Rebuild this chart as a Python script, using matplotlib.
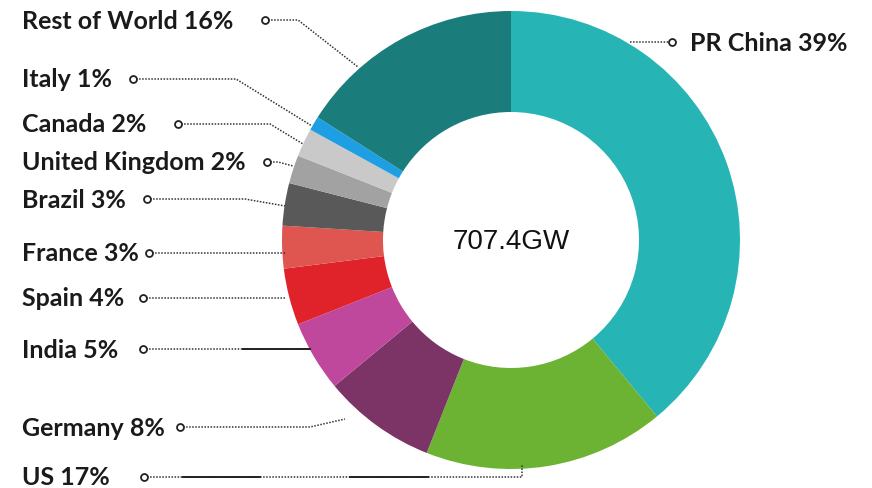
import matplotlib.pyplot as plt

# ==============================
# DATA
# ==============================

countries = ["PR China", "US", "Germany", "India", "Spain", "France",
             "Brazil", "United Kingdom", "Canada", "Italy", "Rest of World"]
shares = [39, 17, 8, 5, 4, 3, 3, 2, 2, 1, 16]
colors = ["#27b4b4", "#6cb233", "#7c3466", "#c0489c", "#e0232a", "#df5550",
          "#595959", "#a2a2a2", "#c9c9c9", "#1e9fe3", "#1b7d7b"]
total_label = "707.4GW"

# ==============================
# FIGURE (axes in pixel units, y up)
# ==============================

W, H = 872, 489
fig = plt.figure(figsize=(W / 100, H / 100), dpi=100)
ax = fig.add_axes([0, 0, 1, 1])

cx, cy = 511, H - 241
R, ring = 229, 101

ax.pie(shares, colors=colors, startangle=90, counterclock=False,
       center=(cx, cy), radius=R,
       wedgeprops=dict(width=ring, linewidth=0))

ax.set_xlim(0, W)
ax.set_ylim(0, H)
ax.set_aspect("equal")
ax.axis("off")

ax.text(cx, cy - 1, total_label, ha="center", va="center", fontsize=20,
        family="Liberation Sans", color="#111111")

# ==============================
# LABELS + LEADER LINES
# ==============================

def py(y):
    return H - y

# label text y, leader path starting at the marker (pixel coords)
label_y = {
    "Rest of World": 22, "Italy": 80, "Canada": 125, "United Kingdom": 163,
    "Brazil": 201, "France": 254, "Spain": 299, "India": 351,
    "Germany": 429, "US": 478,
}
paths = {
    "Rest of World": [(265, 21), (298, 21), (358, 68)],
    "Italy": [(133, 80), (236, 80), (312, 127)],
    "Canada": [(178, 125), (270, 125), (303, 145)],
    "United Kingdom": [(267, 163), (278, 163), (293, 167)],
    "Brazil": [(147, 200), (245, 200), (285, 207)],
    "France": [(149, 254), (285, 254)],
    "Spain": [(143, 299), (285, 299)],
    "India": [(143, 350), (310, 350)],
    "Germany": [(180, 428), (310, 428), (345, 420)],
    "US": [(144, 478), (522, 478), (522, 466)],
}
solid_bits = {
    "India": [[(243, 350), (310, 350)]],
    "US": [[(183, 478), (260, 478)], [(350, 478), (428, 478)]],
}

for name, share in zip(countries, shares):
    if name == "PR China":
        continue
    ty = label_y[name]
    ax.text(22, py(ty), f"{name} {share}%", ha="left", va="center",
            fontsize=18, family="Lato", fontweight="bold", color="#1a1a1a")
    pts = paths[name]
    ax.plot([p[0] for p in pts], [py(p[1]) for p in pts], color="#333333",
            lw=1.1, ls=(0, (1, 1)))
    for s in solid_bits.get(name, []):
        ax.plot([p[0] for p in s], [py(p[1]) for p in s],
                color="#222222", lw=1.4)
    ax.plot(pts[0][0], py(pts[0][1]), "o", ms=5, mfc="white",
            mec="#222222", mew=1.3)

# PR China on the right
ax.text(690, py(44), f"{countries[0]} {shares[0]}%", ha="left", va="center",
        fontsize=18, family="Lato", fontweight="bold", color="#1a1a1a")
ax.plot([630, 672], [py(43), py(43)], color="#333333", lw=1.1, ls=(0, (1, 1)))
ax.plot(672, py(43), "o", ms=5, mfc="white", mec="#222222", mew=1.3)

fig.savefig("out.png", dpi=100)
